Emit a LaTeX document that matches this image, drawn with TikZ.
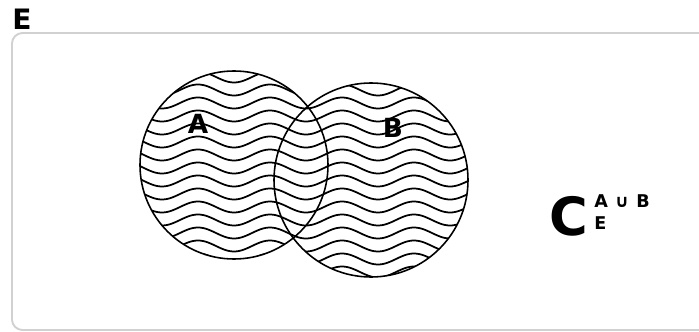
\documentclass[tikz,border=0pt]{standalone}
\usepackage{fontspec}
\setmainfont{DejaVu Sans}
\usetikzlibrary{positioning}

\begin{document}
\begin{tikzpicture}[
      x=0.02cm, y=-0.02cm,
      frame/.style={draw=black!18, line width=1.1pt, rounded corners=6pt},
      setline/.style={draw=black, line width=0.9pt},
      waveline/.style={black, line width=1pt},
      setlabel/.style={font=\fontsize{15}{15}\bfseries, inner sep=0pt},
      big/.style={font=\fontsize{30}{30}\bfseries, inner sep=0pt},
      small/.style={font=\fontsize{10}{10}\bfseries, inner sep=0pt}
    ]
    \useasboundingbox (0,0) rectangle (699,331);

    % universe
    \node[font=\fontsize{16}{16}\bfseries, inner sep=0pt] (universe) at (22,19) {E};
    \draw[frame] (720,33) -- (12,33) -- (12,330) -- (720,330);

    % hatching of A and B
    \coordinate (ca) at (234,165);
    \coordinate (cb) at (371,180);
    \begin{scope}
      \clip (ca) circle[radius=94] (cb) circle[radius=97];
      \foreach \k in {0,...,17}
        \draw[waveline] plot[domain=130:480, samples=140, smooth]
          (\x, {64 + 13*\k + 5.5*sin(5*\x)});
    \end{scope}

    % the two sets
    \draw[setline] (ca) circle[radius=94];
    \draw[setline] (cb) circle[radius=97];
    \node[setlabel] (la) at (198,124) {A};
    \node[setlabel] (lb) at (393,128) {B};

    % complement
    \node[big] (comp) at (569,216) {C};
    \node[small, anchor=west] (sup) at (594,201) {A\hspace{4pt}∪\hspace{4pt}B};
    \node[small, anchor=west] (sub) at (594,223) {E};
  \end{tikzpicture}
\end{document}
